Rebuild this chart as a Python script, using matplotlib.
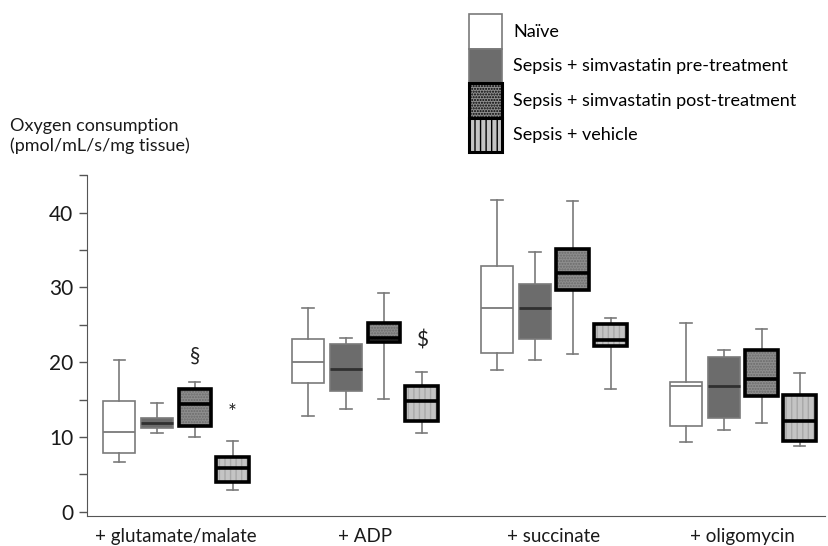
import numpy as np
import matplotlib
matplotlib.use("Agg")
import matplotlib.pyplot as plt
from matplotlib.patches import Patch

plt.rcParams['font.family'] = ['Lato', 'DejaVu Sans']

conditions = ["+ glutamate/malate", "+ ADP", "+ succinate", "+ oligomycin"]
groups = ["Naïve", "Sepsis + simvastatin pre-treatment",
          "Sepsis + simvastatin post-treatment", "Sepsis + vehicle"]

# per condition, per group: whisker low, q1, median, q3, whisker high
naive = [[6.7, 7.9, 10.7, 14.8, 20.3],
         [12.8, 17.2, 20.0, 23.1, 27.3],
         [18.9, 21.2, 27.2, 32.9, 41.7],
         [9.4, 11.5, 16.8, 17.3, 25.2]]
pre = [[10.5, 11.2, 11.9, 12.5, 14.5],
       [13.7, 16.1, 19.1, 22.4, 23.2],
       [20.3, 23.1, 27.3, 30.4, 34.8],
       [10.9, 12.5, 16.8, 20.7, 21.6]]
post = [[10.0, 11.5, 14.4, 16.4, 17.3],
        [15.1, 22.7, 23.3, 25.2, 29.2],
        [21.1, 29.7, 31.9, 35.1, 41.5],
        [11.9, 15.5, 17.7, 21.7, 24.4]]
vehicle = [[2.9, 4.0, 5.9, 7.3, 9.5],
           [10.5, 12.1, 14.8, 16.8, 18.7],
           [16.4, 22.2, 23.0, 25.1, 25.9],
           [8.8, 9.5, 12.1, 15.6, 18.5]]

# significance marks: (condition index, group index, y, symbol)
marks = [(0, 2, 20.9, "§"), (0, 3, 13.2, "*"), (1, 3, 22.9, "$")]

group_gap = 5.0
offsets = [-1.5, -0.5, 0.5, 1.5]
width = 0.86

styles = [
    dict(face="white", hatch=None, hcol=None, edge="#7a7a7a", lw=1.2, med="#7a7a7a", mlw=1.3),
    dict(face="#6c6c6c", hatch=None, hcol=None, edge="#7a7a7a", lw=1.2, med="#303030", mlw=2.0),
    dict(face="#8e8e8e", hatch="......", hcol="#6a6a6a", edge="black", lw=2.6, med="black", mlw=2.6),
    dict(face="#c4c4c4", hatch="|||", hcol="#a8a8a8", edge="black", lw=2.6, med="black", mlw=2.6),
]


def make_stats(rows):
    out = []
    for r in rows:
        out.append(dict(whislo=r[0], q1=r[1], med=r[2], q3=r[3], whishi=r[4], fliers=[]))
    return out


fig = plt.figure(figsize=(8.29, 5.46), dpi=100)
ax = fig.add_axes([0.105, 0.055, 0.89, 0.624])

for g, data in enumerate([naive, pre, post, vehicle]):
    st = styles[g]
    pos = [i * group_gap + offsets[g] for i in range(len(conditions))]
    stats = make_stats(data)
    wprops = dict(color="#7a7a7a", linewidth=1.2)
    if st["hatch"]:
        # hatched fill first, then the thick outline on top
        ax.bxp(stats, positions=pos, widths=width, patch_artist=True, showfliers=False,
               boxprops=dict(facecolor=st["face"], edgecolor=st["hcol"], hatch=st["hatch"], linewidth=0),
               medianprops=dict(linewidth=0), whiskerprops=wprops, capprops=wprops,
               capwidths=0.3, manage_ticks=False)
        ax.bxp(stats, positions=pos, widths=width, patch_artist=True, showfliers=False,
               boxprops=dict(facecolor="none", edgecolor=st["edge"], linewidth=st["lw"]),
               medianprops=dict(color=st["med"], linewidth=st["mlw"]),
               whiskerprops=dict(linewidth=0), capprops=dict(linewidth=0),
               capwidths=0.3, manage_ticks=False)
    else:
        ax.bxp(stats, positions=pos, widths=width, patch_artist=True, showfliers=False,
               boxprops=dict(facecolor=st["face"], edgecolor=st["edge"], linewidth=st["lw"]),
               medianprops=dict(color=st["med"], linewidth=st["mlw"]),
               whiskerprops=wprops, capprops=wprops, capwidths=0.3, manage_ticks=False)

for ci, gi, y, s in marks:
    ax.text(ci * group_gap + offsets[gi], y, s, ha="center", va="center",
            fontsize=15, color="#222222")

ax.set_xlim(-2.35, 3 * group_gap + 2.17)
ax.set_ylim(-0.55, 45)
ax.set_xticks([i * group_gap for i in range(len(conditions))])
ax.set_xticklabels(conditions, fontsize=13.5, color="#1a1a1a")
ax.tick_params(axis="x", length=0, pad=9)
ax.set_yticks([0, 10, 20, 30, 40])
ax.set_yticks([5, 15, 25, 35, 45], minor=True)
ax.tick_params(axis="y", which="both", length=6, width=1, color="#555555",
               labelsize=15, labelcolor="#1a1a1a", pad=4)
for side in ["top", "right"]:
    ax.spines[side].set_visible(False)
ax.spines["left"].set_color("#555555")
ax.spines["bottom"].set_color("#555555")
ax.spines["left"].set_bounds(-0.55, 45)

fig.text(0.012, 0.751, "Oxygen consumption\n(pmol/mL/s/mg tissue)", fontsize=13,
         ha="left", va="center", linespacing=1.2, color="#1a1a1a")

handles = []
for g in range(4):
    st = styles[g]
    if st["hatch"]:
        handles.append(Patch(facecolor=st["face"], edgecolor="black", hatch=st["hatch"], linewidth=2.2))
    else:
        handles.append(Patch(facecolor=st["face"], edgecolor=st["edge"], linewidth=1.2))
fig.legend(handles, groups, loc="upper left", bbox_to_anchor=(0.555, 0.99), frameon=False,
           fontsize=13, handlelength=1.8, handleheight=2.55, labelspacing=0.0,
           handletextpad=0.65, borderpad=0)

fig.savefig("out.png", dpi=100)
